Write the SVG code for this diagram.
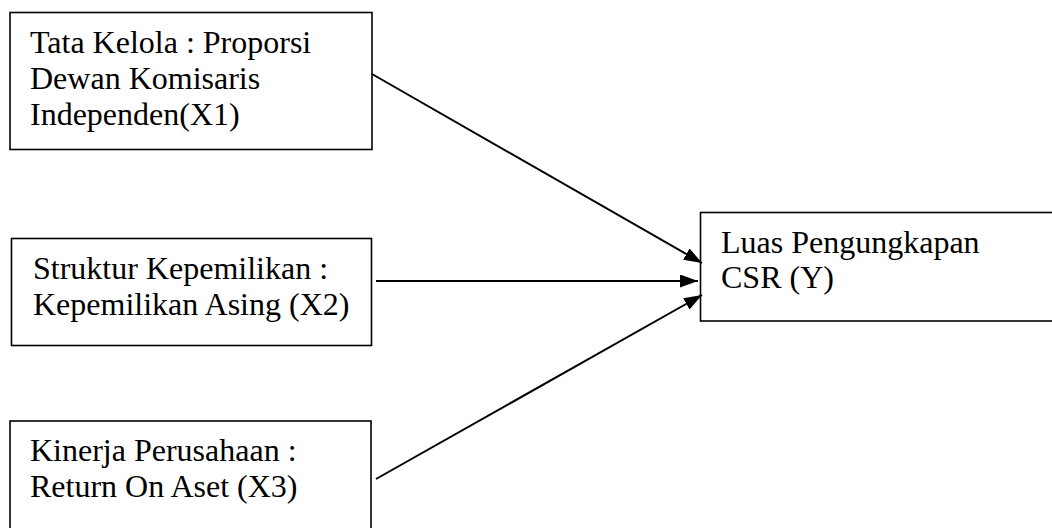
<svg xmlns="http://www.w3.org/2000/svg" width="1052" height="528" viewBox="0 0 1052 528">
<style>
.box{fill:#fff;stroke:#000;stroke-width:1.6}
.t{font-family:"Liberation Serif","Times New Roman",serif;font-size:32px;fill:#000}
.c{stroke:#000;stroke-width:2;fill:none}
</style>
<defs>
<marker id="ah" viewBox="0 0 18 13" refX="18" refY="6.5" markerWidth="18" markerHeight="13" markerUnits="userSpaceOnUse" orient="auto">
<path d="M0,0 L18,6.5 L0,13 Z" fill="#000"/>
</marker>
</defs>
<rect width="1052" height="528" fill="#fff"/>
<g id="x1">
<rect class="box" x="10" y="12.5" width="362" height="137"/>
<text class="t" x="30" y="52.5">Tata Kelola : Proporsi</text>
<text class="t" x="30" y="88.5">Dewan Komisaris</text>
<text class="t" x="30" y="124.5">Independen(X1)</text>
</g>
<g id="x2">
<rect class="box" x="11.5" y="238.5" width="360" height="107"/>
<text class="t" x="33" y="279">Struktur Kepemilikan :</text>
<text class="t" x="33" y="314.5">Kepemilikan Asing (X2)</text>
</g>
<g id="x3">
<rect class="box" x="10" y="421" width="361" height="120"/>
<text class="t" x="30" y="460.5">Kinerja Perusahaan :</text>
<text class="t" x="30" y="496.5">Return On Aset (X3)</text>
</g>
<g id="y">
<rect class="box" x="700.5" y="212.5" width="360" height="108.5"/>
<text class="t" x="721" y="252.5">Luas Pengungkapan</text>
<text class="t" x="721" y="288">CSR (Y)</text>
</g>
<g id="connectors">
<line class="c" x1="372" y1="74" x2="702" y2="263" marker-end="url(#ah)"/>
<line class="c" x1="376" y1="281" x2="698" y2="281" marker-end="url(#ah)"/>
<line class="c" x1="376" y1="479" x2="702" y2="295" marker-end="url(#ah)"/>
</g>
</svg>
